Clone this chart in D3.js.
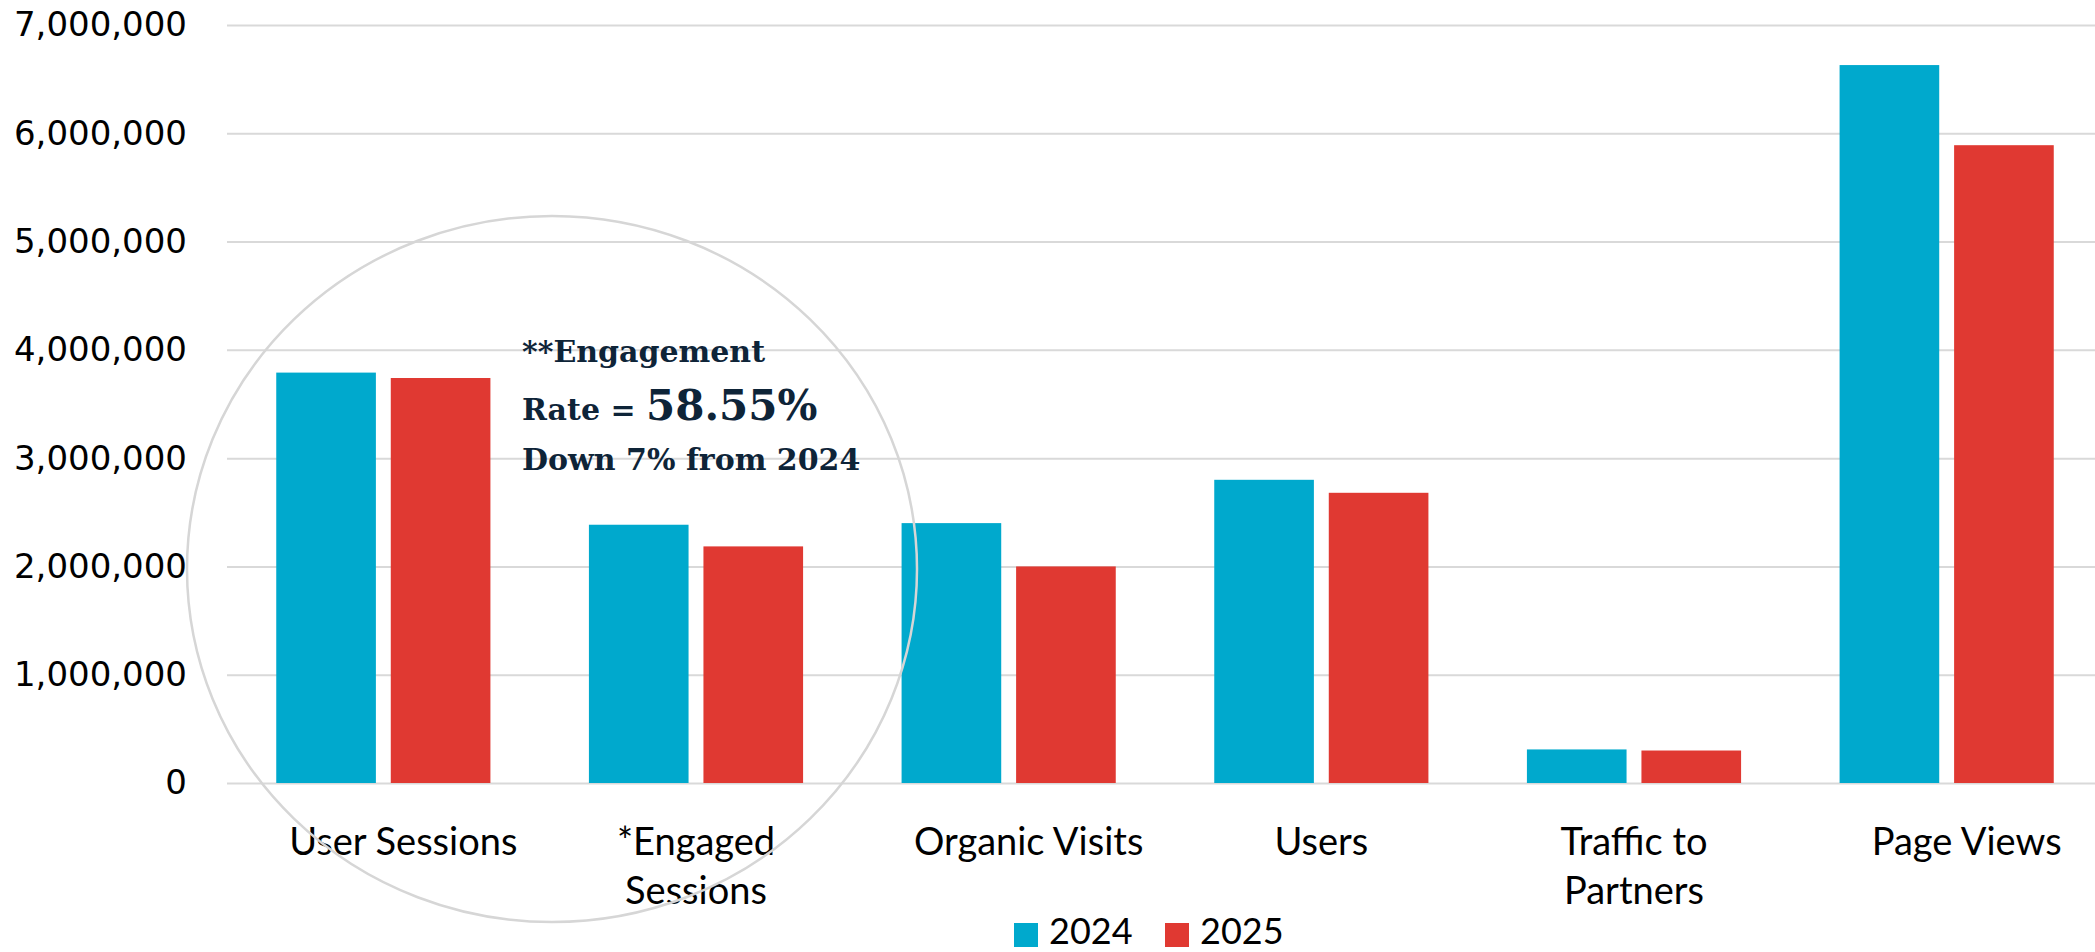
<!DOCTYPE html>
<html>
<head>
<meta charset="utf-8">
<script src="https://cdn.jsdelivr.net/npm/d3@7"></script>
<style>
  body { margin: 0; background: #fff; }
  svg { display: block; }
</style>
</head>
<body>
<div id="chart-area"></div>
<script>
// chart data
const categories = ["User Sessions", "*Engaged Sessions", "Organic Visits", "Users", "Traffic to Partners", "Page Views"];
const tickLines = [["User Sessions"], ["*Engaged", "Sessions"], ["Organic Visits"], ["Users"], ["Traffic to", "Partners"], ["Page Views"]];
const series = ["2024", "2025"];
const values2024 = [3790000, 2385000, 2400000, 2800000, 310000, 6630000];
const values2025 = [3740000, 2185000, 2000000, 2680000, 300000, 5890000];
const yTicks = [0, 1000000, 2000000, 3000000, 4000000, 5000000, 6000000, 7000000];

let width = 2095, height = 952;
let plot = {left: 227, right: 2103, top: 25, bottom: 783};

var svg = d3.select('#chart-area')
    .append('svg')
    .attr('width', width)
    .attr('height', height);

var x0 = d3.scaleBand()
    .domain(categories)
    .range([plot.left, plot.right]);

var x1 = d3.scaleBand()
    .domain(series)
    .range([0, x0.bandwidth()])
    .paddingInner(0.13)
    .paddingOuter(0.43);

var y = d3.scaleLinear()
    .domain([0, 7000000])
    .range([plot.bottom, plot.top]);

var color = d3.scaleOrdinal()
    .domain(series)
    .range(['#00a9cd', '#e03932']);

// y axis + gridlines
var yAxisCall = d3.axisLeft(y)
    .tickValues(yTicks)
    .tickSize(-(width - plot.left))
    .tickPadding(40)
    .tickFormat(d3.format(','));

var yAxis = svg.append('g')
    .attr('class', 'y axis')
    .attr('transform', 'translate(' + plot.left + ', 0)')
    .call(yAxisCall);
yAxis.select('.domain').remove();
yAxis.selectAll('line')
    .attr('stroke', '#d9d9d9')
    .attr('stroke-width', 2);
yAxis.selectAll('text')
    .attr('font-family', 'DejaVu Sans, sans-serif')
    .attr('font-size', '34px')
    .attr('fill', '#000');

// bars
var rows = categories.map(function(c, i) {
    return {cat: c, vals: [
        {key: '2024', value: values2024[i]},
        {key: '2025', value: values2025[i]}
    ]};
});

var groups = svg.selectAll('g.group')
    .data(rows)
    .enter()
    .append('g')
    .attr('class', 'group')
    .attr('transform', function(d) { return 'translate(' + x0(d.cat) + ', 0)'; });

groups.selectAll('rect')
    .data(function(d) { return d.vals; })
    .enter()
    .append('rect')
    .attr('x', function(d) { return x1(d.key); })
    .attr('y', function(d) { return y(d.value); })
    .attr('width', x1.bandwidth())
    .attr('height', function(d) { return y(0) - y(d.value); })
    .attr('fill', function(d) { return color(d.key); });

// x labels (wrapped like the original)
var xLabels = svg.append('g').attr('class', 'x axis');
categories.forEach(function(c, i) {
    var t = xLabels.append('text')
        .attr('x', x0(c) + x0.bandwidth() / 2)
        .attr('y', 855)
        .attr('text-anchor', 'middle')
        .attr('font-family', 'Lato, sans-serif')
        .attr('font-size', '38px')
        .attr('fill', '#000');
    // single line labels sit a bit right of the band centre
    var shift = tickLines[i].length === 1 && tickLines[i][0].indexOf(' ') > 0 ? 20 : 0;
    tickLines[i].forEach(function(line, j) {
        t.append('tspan')
            .attr('x', x0(c) + x0.bandwidth() / 2 + shift)
            .attr('dy', j === 0 ? 0 : 49)
            .text(line);
    });
});

// circle around the first two groups
svg.append('ellipse')
    .attr('cx', 552)
    .attr('cy', 569)
    .attr('rx', 365)
    .attr('ry', 353)
    .attr('fill', 'none')
    .attr('stroke', '#d6d6d6')
    .attr('stroke-width', 2.5);

// annotation
var note = svg.append('text')
    .attr('x', 522)
    .attr('y', 362)
    .attr('font-family', 'DejaVu Serif, serif')
    .attr('font-weight', 'bold')
    .attr('font-size', '30px')
    .attr('fill', '#0e2438');
note.append('tspan').attr('x', 522).attr('dy', 0).text('**Engagement');
note.append('tspan').attr('x', 522).attr('dy', 58).text('Rate = ');
note.append('tspan').attr('font-size', '42px').text('58.55%');
note.append('tspan').attr('x', 522).attr('dy', 50).text('Down 7% from 2024');

// legend
var legend = svg.append('g').attr('class', 'legend');
series.forEach(function(s, i) {
    var lx = 1014 + i * 151;
    legend.append('rect')
        .attr('x', lx)
        .attr('y', 923)
        .attr('width', 24)
        .attr('height', 24)
        .attr('fill', color(s));
    legend.append('text')
        .attr('x', lx + 35)
        .attr('y', 944)
        .attr('font-family', 'Lato, sans-serif')
        .attr('font-size', '36px')
        .attr('fill', '#000')
        .text(s);
});
</script>
</body>
</html>
